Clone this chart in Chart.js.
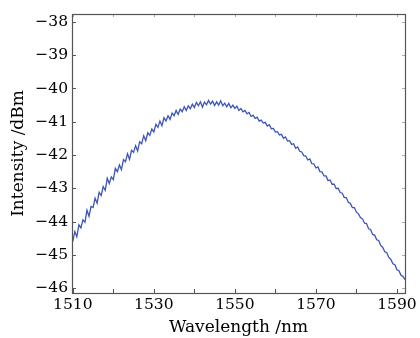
<!DOCTYPE html>
<html><head><meta charset="utf-8">
<script src="https://cdn.jsdelivr.net/npm/chart.js@4/dist/chart.umd.min.js"></script>
<style>html,body{margin:0;padding:0;background:#fff;}#wrap{width:420px;height:338px;}</style>
</head><body><div id="wrap"><canvas id="c" width="420" height="338"></canvas></div>
<script>
// Sampling grid of the spectrum (nm)
const wavelengthStart = 1510;
const wavelengthStep = 0.5;
// Intensity (dBm), one value per 0.5 nm from 1510 to 1592
const intensity = [
-44.60,-44.30,-44.46,-44.10,-44.19,-43.95,-44.02,-43.66,-43.84,-43.55,
-43.58,-43.30,-43.45,-43.12,-43.22,-42.95,-43.06,-42.70,-42.86,-42.66,
-42.74,-42.40,-42.50,-42.30,-42.44,-42.14,-42.20,-41.96,-42.13,-41.86,
-41.92,-41.72,-41.88,-41.60,-41.66,-41.42,-41.57,-41.33,-41.41,-41.22,
-41.31,-41.08,-41.17,-40.98,-41.12,-40.88,-40.98,-40.82,-40.93,-40.74,
-40.82,-40.66,-40.78,-40.62,-40.70,-40.55,-40.66,-40.52,-40.61,-40.47,
-40.57,-40.42,-40.52,-40.40,-40.56,-40.41,-40.49,-40.36,-40.47,-40.38,
-40.51,-40.40,-40.50,-40.37,-40.52,-40.44,-40.55,-40.45,-40.58,-40.50,
-40.60,-40.53,-40.66,-40.60,-40.70,-40.66,-40.76,-40.72,-40.84,-40.80,
-40.90,-40.86,-40.98,-40.95,-41.04,-41.02,-41.13,-41.09,-41.21,-41.20,
-41.31,-41.30,-41.40,-41.38,-41.50,-41.46,-41.58,-41.57,-41.68,-41.66,
-41.80,-41.76,-41.89,-41.91,-42.02,-42.03,-42.15,-42.12,-42.26,-42.27,
-42.39,-42.36,-42.50,-42.51,-42.63,-42.63,-42.77,-42.75,-42.88,-42.88,
-43.01,-43.00,-43.13,-43.15,-43.28,-43.28,-43.42,-43.46,-43.58,-43.58,
-43.72,-43.77,-43.88,-43.92,-44.05,-44.06,-44.22,-44.24,-44.39,-44.41,
-44.55,-44.57,-44.72,-44.78,-44.91,-44.94,-45.08,-45.14,-45.27,-45.30,
-45.45,-45.48,-45.62,-45.65,-45.75
];
const xTickLabels = [1510, 1530, 1550, 1570, 1590];
const xMinorTicks = [1510, 1520, 1530, 1540, 1550, 1560, 1570, 1580, 1590];
const yTickLabels = [-38, -39, -40, -41, -42, -43, -44, -45, -46];
const xTitle = 'Wavelength /nm';
const yTitle = 'Intensity /dBm';

const points = intensity.map((v, i) => ({ x: wavelengthStart + i * wavelengthStep, y: v }));

const framePlugin = {
  id: 'frame',
  afterDatasetsDraw(chart) {
    const { ctx, chartArea: a, scales } = chart;
    const xs = scales.x, ys = scales.y;
    ctx.save();
    ctx.lineWidth = 1;
    ctx.strokeStyle = '#555';
    ctx.beginPath();
    xMinorTicks.forEach(v => {
      const px = Math.round(xs.getPixelForValue(v)) + 0.5;
      ctx.moveTo(px, a.bottom); ctx.lineTo(px, a.bottom - 4);
    });
    yTickLabels.forEach(v => {
      const py = Math.round(ys.getPixelForValue(v)) + 0.5;
      ctx.moveTo(a.left, py); ctx.lineTo(a.left + 4, py);
    });
    ctx.stroke();
    ctx.strokeStyle = '#aaa';
    ctx.beginPath();
    xMinorTicks.forEach(v => {
      const px = Math.round(xs.getPixelForValue(v)) + 0.5;
      ctx.moveTo(px, a.top); ctx.lineTo(px, a.top + 3);
    });
    yTickLabels.forEach(v => {
      const py = Math.round(ys.getPixelForValue(v)) + 0.5;
      ctx.moveTo(a.right, py); ctx.lineTo(a.right - 3, py);
    });
    ctx.stroke();
    ctx.strokeStyle = '#555';
    ctx.lineWidth = 1.2;
    ctx.strokeRect(Math.round(a.left) + 0.5, Math.round(a.top) + 0.5,
                   Math.round(a.right - a.left), Math.round(a.bottom - a.top));
    ctx.restore();
  }
};

const tickFont = { family: "'DejaVu Serif', 'Liberation Serif', serif", size: 15.5 };
const titleFont = { family: "'DejaVu Serif', 'Liberation Serif', serif", size: 17 };

new Chart(document.getElementById('c'), {
  type: 'line',
  data: {
    datasets: [{
      data: points,
      borderColor: '#3d55b8',
      borderWidth: 1.3,
      pointRadius: 0,
      tension: 0,
      fill: false
    }]
  },
  options: {
    responsive: false,
    animation: false,
    devicePixelRatio: 1,
    layout: { padding: { left: 0, top: 14, right: 14, bottom: 0 } },
    plugins: { legend: { display: false }, tooltip: { enabled: false } },
    scales: {
      x: {
        type: 'linear',
        min: 1509.8,
        max: 1592,
        afterBuildTicks: s => { s.ticks = xTickLabels.map(v => ({ value: v })); },
        afterFit: s => { s.height = 45; },
        grid: { display: false, drawTicks: false },
        border: { display: false },
        ticks: { color: '#000', font: tickFont, padding: 3, maxRotation: 0, autoSkip: false,
                 callback: v => String(v) },
        title: { display: true, text: xTitle, color: '#000', font: titleFont, padding: { top: 0, bottom: 0 } }
      },
      y: {
        type: 'linear',
        min: -46.15,
        max: -37.76,
        afterBuildTicks: s => { s.ticks = yTickLabels.map(v => ({ value: v })); },
        afterFit: s => { s.width = 72; },
        grid: { display: false, drawTicks: false },
        border: { display: false },
        ticks: { color: '#000', font: tickFont, padding: 4, autoSkip: false,
                 callback: v => '\u2212' + Math.abs(v) },
        title: { display: true, text: yTitle, color: '#000', font: titleFont, padding: { top: 8, bottom: 0 } }
      }
    }
  },
  plugins: [framePlugin]
});
</script>
</body></html>
